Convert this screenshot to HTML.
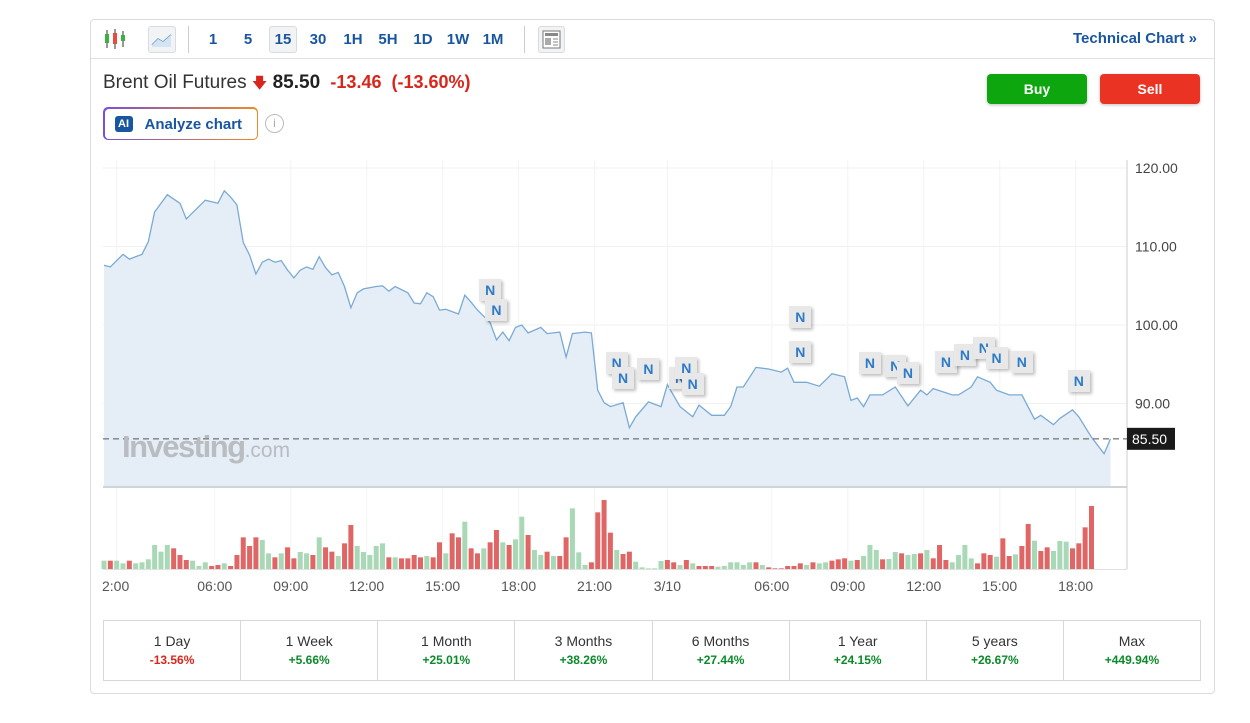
<!DOCTYPE html>
<html><head><meta charset="utf-8">
<style>
*{box-sizing:border-box;margin:0;padding:0}
body{width:1250px;height:723px;background:#fff;font-family:"Liberation Sans",sans-serif;position:relative;overflow:hidden;color:#222}
.card{position:absolute;left:90px;top:19px;width:1125px;height:675px;border:1px solid #dcdcdc;border-radius:4px}
.tb{position:absolute;left:0;top:0;width:100%;height:39px;border-bottom:1px solid #e2e2e2}
.tbi{position:absolute;top:7px;height:25px;line-height:25px;font-size:15px;font-weight:bold;color:#1a56a0;text-align:center}
.sel{background:#f1f3f5;border:1px solid #d8dcdf;border-radius:3px}
.abs{position:absolute}
.btn{position:absolute;top:74px;width:100px;height:30px;border-radius:4px;color:#fff;font-weight:bold;font-size:14px;text-align:center;line-height:30px;box-shadow:0 1px 3px rgba(0,0,0,.25)}
.nm{position:absolute;width:22px;height:22px;background:#e8e8e8;box-shadow:2px 2px 3px rgba(0,0,0,.25);color:#2d7ac8;font-weight:bold;font-size:14px;text-align:center;line-height:22px}
.per{position:absolute;top:620px;height:61px;border:1px solid #d8d8d8;text-align:center}
.per .a{font-size:14px;color:#333;margin-top:12px}
.per .b{font-size:12px;margin-top:4px;font-weight:bold}
</style></head><body>
<div class="card"></div>
<div class="abs" style="left:91px;top:20px;width:1123px;height:39px;border-bottom:1px solid #e2e2e2"></div>
<svg class="abs" style="left:103px;top:27px" width="24" height="24">
<line x1="4" y1="3" x2="4" y2="21" stroke="#333"/><rect x="2" y="7" width="4" height="9" fill="#3cb043"/>
<line x1="12" y1="2" x2="12" y2="22" stroke="#333"/><rect x="10" y="6" width="4" height="11" fill="#e84c3d"/>
<line x1="20" y1="4" x2="20" y2="20" stroke="#333"/><rect x="18" y="8" width="4" height="6" fill="#3cb043"/></svg>
<div class="abs sel" style="left:148px;top:26px;width:28px;height:27px">
<svg width="26" height="25"><path d="M3 18 L9 12 L14 15 L22 8" stroke="#6a9fd0" fill="none" stroke-width="1.5"/><path d="M3 18 L9 12 L14 15 L22 8 L22 20 L3 20Z" fill="#d5e4f2"/></svg></div>
<div class="abs" style="left:188px;top:26px;width:1px;height:27px;background:#ccc"></div>
<div class="tbi" style="left:203px;top:27px;width:20px">1</div>
<div class="tbi" style="left:238px;top:27px;width:20px">5</div>
<div class="tbi sel" style="left:269px;top:26px;width:28px;height:27px">15</div>
<div class="tbi" style="left:305px;top:27px;width:26px">30</div>
<div class="tbi" style="left:340px;top:27px;width:26px">1H</div>
<div class="tbi" style="left:375px;top:27px;width:26px">5H</div>
<div class="tbi" style="left:410px;top:27px;width:26px">1D</div>
<div class="tbi" style="left:444px;top:27px;width:28px">1W</div>
<div class="tbi" style="left:479px;top:27px;width:28px">1M</div>
<div class="abs" style="left:524px;top:26px;width:1px;height:27px;background:#ccc"></div>
<div class="abs sel" style="left:538px;top:26px;width:27px;height:27px">
<svg width="25" height="25"><rect x="4" y="4" width="17" height="17" fill="#fff" stroke="#777"/><rect x="6" y="6" width="13" height="3" fill="#888"/><rect x="6" y="11" width="6" height="7" fill="#aaa"/><line x1="14" y1="12" x2="19" y2="12" stroke="#888"/><line x1="14" y1="15" x2="19" y2="15" stroke="#888"/><line x1="14" y1="18" x2="19" y2="18" stroke="#888"/></svg></div>
<div class="abs" style="left:1073px;top:30px;font-size:15px;font-weight:bold;color:#1a56a0">Technical Chart »</div>

<div class="abs" style="left:103px;top:72px;font-size:19px;color:#333;white-space:nowrap">Brent Oil Futures <span style="color:#d9261c;font-size:15px">&#129095;</span> <b style="color:#222">85.50</b> <span style="color:#d9261c;font-weight:bold;font-size:18px">&nbsp;-13.46&nbsp; (-13.60%)</span></div>
<div class="btn" style="left:987px;background:#0ea60e">Buy</div>
<div class="btn" style="left:1100px;background:#ea3323">Sell</div>
<div class="abs" style="left:103px;top:107px;width:155px;height:33px;border-radius:5px;background:linear-gradient(90deg,#7b4fd6,#f08a24);padding:1.5px"><div style="background:#fff;width:100%;height:100%;border-radius:4px;position:relative">
<div class="abs" style="left:10px;top:7px;width:18px;height:16px;background:#1a56a0;border-radius:3px;color:#fff;font-size:11px;font-weight:bold;text-align:center;line-height:16px">AI</div>
<div class="abs" style="left:40px;top:7px;font-size:15px;font-weight:bold;color:#1a56a0">Analyze chart</div></div></div>
<div class="abs" style="left:265px;top:114px;width:19px;height:19px;border:1.5px solid #bbb;border-radius:50%;color:#aaa;font-size:12px;text-align:center;line-height:16px">i</div>

<svg id="chart" class="abs" style="left:0;top:0" width="1250" height="723"></svg>

<div class="abs" style="left:122px;top:429px;font-size:31px;font-weight:bold;color:#b9bcc0;letter-spacing:-1.5px">Investing<span style="font-weight:normal;font-size:21px;letter-spacing:0">.com</span></div>
<div id="nmarks"></div>

<div id="periods"></div>

<script>
const priceIdx=[0,1,3,4,6,7,8,10,12,13,14,16,18,19,20,21,22,23,24,25,26,27,28,29,30,31,32,33,34,35,36,37,38,39,40,41,43,44,45,46,48,49,50,51,52,53,54,56,57,58,59,61,62,63,64,65,66,67,69,70,72,73,74,76,77,78,79,80,82,83,84,86,88,89,91,93,94,96,98,99,100,101,103,105,107,108,109,111,113,115,117,118,119,120,121,123,125,127,129,130,131,134,135,137,138,140,141,143,145,147,148,150,151,153,154,156,158,159];
const priceVals=[107.6,107.4,109.0,108.4,109.0,110.6,114.4,116.6,115.5,113.5,114.3,115.9,115.5,117.1,116.3,115.3,110.5,108.9,106.5,108.0,108.4,108.0,108.2,107.0,106.0,107.0,107.4,107.1,108.7,107.3,106.4,106.7,104.9,102.2,104.1,104.6,104.9,105.0,104.3,104.9,104.1,102.8,102.7,104.1,103.6,101.9,102.0,101.4,103.8,102.9,101.9,100.3,98.1,99.1,98.0,99.7,100.0,99.0,99.7,98.9,99.1,95.9,98.9,99.1,99.0,91.7,90.1,89.6,90.1,86.9,88.3,90.2,89.6,92.4,89.6,88.3,89.8,88.5,88.5,89.6,92.1,92.1,94.6,94.4,94.0,94.5,92.7,92.7,92.2,93.8,93.4,90.4,90.7,89.6,91.1,91.1,92.1,89.7,91.7,91.1,91.9,91.1,91.1,92.1,93.4,92.7,91.7,91.1,91.1,88.0,88.5,87.3,88.1,89.2,88.3,85.7,83.6,85.5];
const volVals=[25,25,25,17,25,17,20,29,72,52,72,62,42,27,25,9,20,9,12,17,9,42,95,69,95,87,47,35,47,65,32,51,47,42,95,65,52,39,77,132,69,51,42,69,77,35,35,32,32,42,35,39,35,80,47,107,95,142,62,47,62,80,117,80,72,89,157,102,57,42,52,39,39,95,182,50,12,20,170,207,109,57,45,52,22,5,2,2,24,27,20,12,27,17,9,9,9,7,9,20,20,12,20,20,12,5,2,2,9,9,17,12,20,17,20,25,29,32,25,27,39,72,57,29,30,51,47,42,45,47,57,32,72,27,20,42,72,32,17,47,42,37,92,39,44,69,135,85,54,65,54,84,82,62,77,125,189];
const volUp=("gggggggggggrrrggggrrgrrrrrggrgrrggrgrrgrrgggggrgrrrrgrrgrrgrrrgrgggrggrgrrggg r"+"").replace(/ /g,'');
const volDir=["g","r","g","g","r","g","g","g","g","g","g","r","r","r","g","g","g","r","r","g","r","r","r","r","r","g","g","r","g","r","r","g","g","r","g","r","r","g","r","r","g","g","g","g","g","r","g","r","r","r","r","g","r","r","g","r","r","g","r","r","g","r","r","g","r","g","g","r","g","g","r","g","r","r","g","g","g","r","r","r","r","g","r","r","g","g","g","g","g","r","r","g","r","g","r","r","r","g","g","g","g","g","g","r","g","r","r","r","r","r","r","g","r","g","g","r","r","r","g","r","g","g","g","r","g","g","r","g","g","r","g","r","r","r","g","g","g","g","r","r","r","g","r","r","g","r","r","g","r","r","g","g","g","r","r","r","r"];
const yTicks=[120,110,100,90];
const xTickLabels=["2:00","06:00","09:00","12:00","15:00","18:00","21:00","3/10","06:00","09:00","12:00","15:00","18:00"];
const xTickIdx=[2,17.5,29.5,41.5,53.5,65.5,77.5,89,105.5,117.5,129.5,141.5,153.5];
const lastPrice=85.50;
const newsIdx=[61,62,81,82,86,91,92,93,110,110,121,125,127,133,136,139,141,145,154];
const newsPrice=[104.5,101.9,95.1,93.3,94.4,93.3,94.5,92.5,101,96.6,95.1,94.8,93.9,95.3,96.2,97.1,95.8,95.3,92.9];
const periodNames=["1 Day","1 Week","1 Month","3 Months","6 Months","1 Year","5 years","Max"];
const periodVals=["-13.56%","+5.66%","+25.01%","+38.26%","+27.44%","+24.15%","+26.67%","+449.94%"];

const NS="http://www.w3.org/2000/svg";
const svg=document.getElementById('chart');
const X=i=>104+i*6.33;
const Y=p=>168+(120-p)*7.85;
const VY=v=>569-v/3;
function el(t,a){const e=document.createElementNS(NS,t);for(const k in a)e.setAttribute(k,a[k]);svg.appendChild(e);return e;}
// grid
yTicks.forEach(t=>{const g=el('line',{x1:103,x2:1127,y1:Y(t),y2:Y(t),stroke:'#f0f0f0'});


const tx=el('text',{x:1135,y:Y(t)+5,'font-size':14,fill:'#444','font-family':'Liberation Sans'});tx.textContent=t.toFixed(2);

});
xTickIdx.forEach((t,i)=>{const g=el('line',{x1:X(t),x2:X(t),y1:160,y2:569,stroke:'#f3f3f3'});


const tx=el('text',{x:i==0?102:X(t),y:591,'font-size':14,fill:'#555','text-anchor':i==0?'start':'middle','font-family':'Liberation Sans'});tx.textContent=xTickLabels[i];

});
// area
let d='';priceIdx.forEach((t,i)=>{d+=(i?'L':'M')+X(t).toFixed(1)+' '+Y(priceVals[i]).toFixed(1);});
const area=el('path',{d:d+'L'+X(priceIdx[priceIdx.length-1])+' 487L'+X(priceIdx[0])+' 487Z',fill:'#e5eef6'});


const line=el('path',{d:d,fill:'none',stroke:'#7aaad4','stroke-width':1.3});


const sep=el('line',{x1:103,x2:1127,y1:487,y2:487,stroke:'#cfd4d8','stroke-width':2});


const ax=el('line',{x1:1127,x2:1127,y1:160,y2:569,stroke:'#ccc'});


const bl=el('line',{x1:103,x2:1127,y1:569.5,y2:569.5,stroke:'#e0e0e0'});


// volume
volVals.forEach((v,i)=>{const r=el('rect',{x:X(i)-2.5,y:VY(v),width:5,height:569-VY(v),fill:volDir[i]=='r'?'#e06666':'#a8d8b5'});

});
// last price
const lp=el('line',{x1:103,x2:1127,y1:Y(lastPrice),y2:Y(lastPrice),stroke:'#555','stroke-dasharray':'6,4'});


const lb=el('rect',{x:1127,y:Y(lastPrice)-11,width:48,height:22,fill:'#1a1a1a'});


const lt=el('text',{x:1132,y:Y(lastPrice)+5,'font-size':14,fill:'#fff','font-family':'Liberation Sans'});lt.textContent=lastPrice.toFixed(2);


// news markers
const nm=document.getElementById('nmarks');
newsIdx.forEach((t,i)=>{const n=document.createElement('div');n.className='nm';n.textContent='N';
n.style.left=(X(t)-11)+'px';n.style.top=(Y(newsPrice[i])-11)+'px';


nm.appendChild(n);});
// periods
const pc=document.getElementById('periods');
const pw=(1200-103)/8;
periodNames.forEach((p,i)=>{const c=document.createElement('div');c.className='per';
c.style.left=(103+i*pw)+'px';c.style.width=(pw+1)+'px';
c.innerHTML='<div class="a">'+p+'</div><div class="b" style="color:'+(periodVals[i][0]=='-'?'#d9261c':'#0b8a2a')+'">'+periodVals[i]+'</div>';


pc.appendChild(c);});
</script>
</body></html>
